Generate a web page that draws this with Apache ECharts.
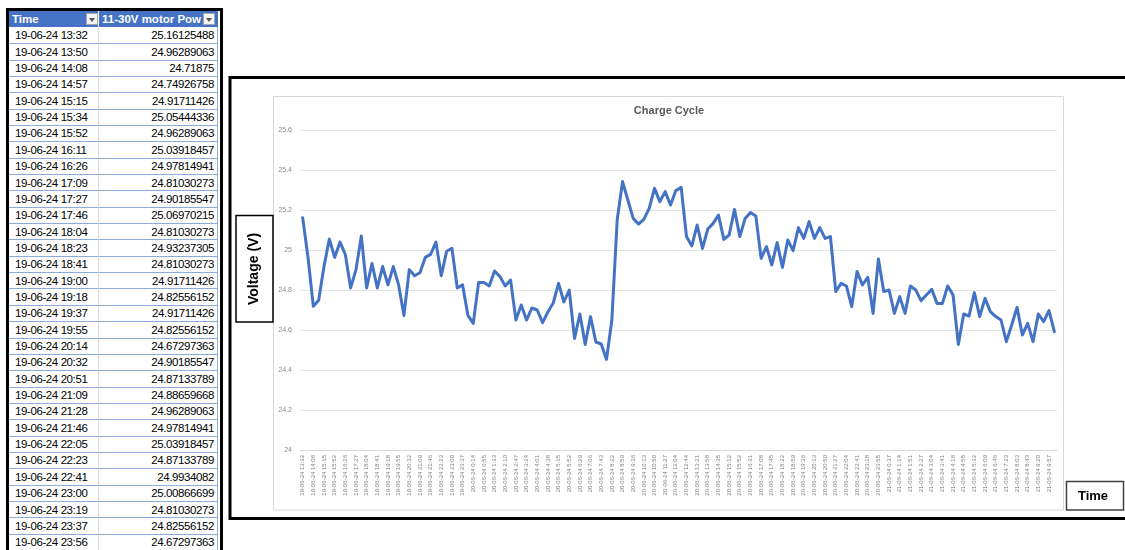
<!DOCTYPE html>
<html>
<head>
<meta charset="utf-8">
<style>
  html, body { margin: 0; padding: 0; background: #fff; }
  #container { position: absolute; left: 0; top: 0; width: 1125px; height: 550px; }
  #sheet {
    position: absolute; left: 6px; top: 8px; width: 217px; height: 560px;
    border: 3px solid #000; box-sizing: border-box; background: #fff; overflow: hidden;
    font-family: "Liberation Sans", Arial, sans-serif; font-size: 11.5px; letter-spacing: -0.4px;
  }
  #sheet .cell { position: absolute; height: 16px; line-height: 16px; white-space: nowrap; overflow: hidden; box-sizing: border-box; }
  #sheet .hdr { background: #4472C4; color: #fff; font-weight: bold; padding-left: 3px; letter-spacing: 0; }
  #sheet .line { position: absolute; height: 1px; background: #8EA9DB; }
  #sheet .vline { position: absolute; width: 1px; }
  #sheet .btn {
    position: absolute; width: 12px; height: 12px; top: 2px; box-sizing: border-box;
    background: #f4f4f4; border: 1px solid #a6a6a6;
  }
  #sheet .btn::after {
    content: ""; position: absolute; left: 2px; top: 4px; width: 0; height: 0;
    border-left: 3.5px solid transparent; border-right: 3.5px solid transparent; border-top: 4px solid #555;
  }
</style>
</head>
<body>
<div id="container"></div>
<div id="sheet"></div>
<script type="text/javascript" src="https://cdn.jsdelivr.net/npm/echarts@6.0.0/dist/echarts.min.js"></script>
<script type="text/javascript">
  // sample times per day
  const day1Times = ['13:32', '13:50', '14:08', '14:57', '15:15', '15:34', '15:52', '16:11', '16:26', '17:09',
    '17:27', '17:46', '18:04', '18:23', '18:41', '19:00', '19:18', '19:37', '19:55', '20:14',
    '20:32', '20:51', '21:09', '21:28', '21:46', '22:05', '22:23', '22:41', '23:00', '23:19',
    '23:37', '23:56'];
  const day2Times = ['0:14', '0:34', '0:55', '1:14', '1:33', '1:51', '2:10', '2:28', '2:47', '3:05',
    '3:24', '3:42', '4:01', '4:19', '4:38', '4:56', '5:15', '5:33', '5:52', '6:10',
    '6:29', '6:47', '7:06', '7:24', '7:43', '8:02', '8:22', '8:40', '8:59', '9:17',
    '9:36', '9:54', '10:13', '10:31', '10:50', '11:08', '11:27', '11:45', '12:04', '12:24',
    '12:44', '13:02', '13:21', '13:39', '13:58', '14:16', '14:35', '14:53', '15:12', '15:32',
    '15:52', '16:11', '16:31', '16:49', '17:08', '17:26', '17:45', '18:03', '18:22', '18:40',
    '18:59', '19:17', '19:36', '19:54', '20:13', '20:31', '20:50', '21:08', '21:27', '21:45',
    '22:04', '22:22', '22:41', '23:00', '23:18', '23:36', '23:55'];
  const day3Times = ['0:16', '0:37', '0:55', '1:14', '1:32', '1:51', '2:09', '2:27', '2:45', '3:04',
    '3:22', '3:41', '3:59', '4:18', '4:36', '4:55', '5:13', '5:32', '5:50', '6:09',
    '6:27', '6:46', '7:04', '7:23', '7:43', '8:03', '8:23', '8:43', '9:01', '9:20',
    '9:38', '9:57', '10:16'];

  // 11-30V motor power voltage (V)
  const voltage = [
    25.16125488, 24.96289063, 24.71875, 24.74926758, 24.91711426, 25.05444336, 24.96289063, 25.03918457,
    24.97814941, 24.81030273, 24.90185547, 25.06970215, 24.81030273, 24.93237305, 24.81030273, 24.91711426,
    24.82556152, 24.91711426, 24.82556152, 24.67297363, 24.90185547, 24.87133789, 24.88659668, 24.96289063,
    24.97814941, 25.03918457, 24.87133789, 24.9934082, 25.00866699, 24.81030273, 24.82556152, 24.67297363,
    24.633, 24.837, 24.837, 24.820, 24.895, 24.867, 24.820, 24.850, 24.650, 24.725,
    24.650, 24.710, 24.700, 24.637, 24.690, 24.735, 24.833, 24.740, 24.800, 24.558,
    24.680, 24.528, 24.667, 24.540, 24.530, 24.453, 24.650, 25.150, 25.342, 25.250,
    25.158, 25.130, 25.153, 25.208, 25.308, 25.242, 25.292, 25.225, 25.297, 25.313,
    25.067, 25.020, 25.125, 25.008, 25.105, 25.133, 25.175, 25.053, 25.075, 25.203,
    25.067, 25.158, 25.187, 25.170, 24.958, 25.017, 24.925, 25.037, 24.913, 25.050,
    24.997, 25.112, 25.058, 25.142, 25.058, 25.112, 25.058, 25.067, 24.792, 24.833,
    24.820, 24.717, 24.892, 24.825, 24.863, 24.683, 24.955, 24.792, 24.800, 24.683,
    24.767, 24.683, 24.820, 24.800, 24.747, 24.775, 24.803, 24.733, 24.733, 24.820,
    24.775, 24.528, 24.680, 24.670, 24.787, 24.667, 24.758, 24.692, 24.667, 24.650,
    24.542, 24.625, 24.713, 24.575, 24.633, 24.542, 24.680, 24.642, 24.697, 24.592
  ];

  const timeLabels = []
    .concat(day1Times.map(t => '19-06-24 ' + t))
    .concat(day2Times.map(t => '20-06-24 ' + t))
    .concat(day3Times.map(t => '21-06-24 ' + t));

  const tableHeaders = ['Time', '11-30V motor Pow'];
  const tableRowCount = 32;

  // spreadsheet on the left
  const sheet = document.getElementById('sheet');
  const rowH = 16.35;
  const col1W = 89, col2X = 90, col2W = 119, tableW = 209;
  function addEl(cls, css, text) {
    const el = document.createElement('div');
    el.className = cls;
    Object.assign(el.style, css);
    if (text !== undefined) el.textContent = text;
    sheet.appendChild(el);
    return el;
  }
  addEl('cell hdr', { left: '0px', top: '0px', width: col1W + 'px', height: rowH + 'px' }, tableHeaders[0]);
  addEl('cell hdr', { left: col2X + 'px', top: '0px', width: col2W + 'px', height: rowH + 'px' }, tableHeaders[1]);
  addEl('btn', { left: '77px' });
  addEl('btn', { left: '194px' });
  for (let r = 0; r < tableRowCount; r++) {
    const top = rowH * (r + 1);
    addEl('cell', { left: '0px', top: top + 'px', width: col1W + 'px', paddingLeft: '6px' }, timeLabels[r]);
    addEl('cell', { left: col2X + 'px', top: top + 'px', width: col2W + 'px', paddingRight: '4px', textAlign: 'right' }, String(voltage[r]));
    addEl('line', { left: '0px', top: (top + rowH - 0.5) + 'px', width: tableW + 'px' });
  }
  addEl('vline', { left: col1W + 'px', top: rowH + 'px', height: '560px', background: '#d9d9d9' });
  addEl('vline', { left: (tableW - 1) + 'px', top: rowH + 'px', height: '560px', background: '#8EA9DB' });

  // chart
  var dom = document.getElementById('container');
  var myChart = echarts.init(dom);
  var option = {
    animation: false,
    backgroundColor: '#fff',
    grid: { left: 300, right: 68, top: 130, bottom: 100, containLabel: false, outerBoundsMode: 'none' },
    xAxis: {
      type: 'category',
      data: timeLabels,
      boundaryGap: true,
      axisLine: { lineStyle: { color: '#d9d9d9', width: 1 } },
      axisTick: { show: false },
      axisLabel: {
        interval: 1, rotate: 90, fontSize: 6, color: '#7f7f7f', margin: 5,
        fontFamily: 'Liberation Sans'
      },
      splitLine: { show: false }
    },
    yAxis: {
      type: 'value',
      min: 24,
      max: 25.6,
      interval: 0.2,
      axisLine: { show: false },
      axisTick: { show: false },
      axisLabel: { fontSize: 7, color: '#8c8c8c', margin: 8, fontFamily: 'Liberation Sans' },
      splitLine: { lineStyle: { color: '#e3e3e3', width: 1 } }
    },
    series: [
      {
        type: 'line',
        data: voltage,
        symbol: 'none',
        lineStyle: { color: '#4472C4', width: 3, join: 'round', cap: 'round' }
      }
    ],
    graphic: [
      { type: 'rect', shape: { x: 230, y: 77.5, width: 905, height: 441 },
        style: { fill: 'none', stroke: '#000', lineWidth: 3 } },
      { type: 'rect', shape: { x: 273.5, y: 96.5, width: 790, height: 413.5 },
        style: { fill: 'none', stroke: '#d9d9d9', lineWidth: 1 } },
      { type: 'rect', shape: { x: 236, y: 215.5, width: 37, height: 106.5 },
        style: { fill: 'none', stroke: '#000', lineWidth: 1.5 } },
      { type: 'rect', shape: { x: 1066.5, y: 481.5, width: 57, height: 28.5 },
        style: { fill: '#fff', stroke: '#404040', lineWidth: 1.5 } },
      { type: 'text', x: 669, y: 111,
        style: { text: 'Charge Cycle', font: 'bold 11px "Liberation Sans"', fill: '#595959',
          align: 'center', verticalAlign: 'middle', textAlign: 'center', textVerticalAlign: 'middle' } },
      { type: 'text', x: 254, y: 269, rotation: Math.PI / 2,
        style: { text: 'Voltage (V)', font: 'bold 14px "Liberation Sans"', fill: '#000',
          align: 'center', verticalAlign: 'middle', textAlign: 'center', textVerticalAlign: 'middle' } },
      { type: 'text', x: 1093, y: 496,
        style: { text: 'Time', font: 'bold 13px "Liberation Sans"', fill: '#000',
          align: 'center', verticalAlign: 'middle', textAlign: 'center', textVerticalAlign: 'middle' } }
    ]
  };
  myChart.setOption(option);
</script>
</body>
</html>
